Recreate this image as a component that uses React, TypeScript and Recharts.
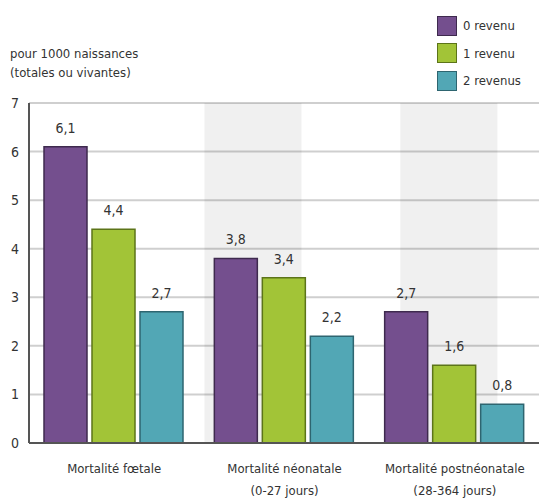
import React from 'react';
import { BarChart, Bar, XAxis, YAxis, CartesianGrid, ReferenceArea, LabelList } from 'recharts';

const categories = ['Mortalité fœtale', 'Mortalité néonatale|(0-27 jours)', 'Mortalité postnéonatale|(28-364 jours)'];
const zeroIncome = [6.1, 3.8, 2.7];
const oneIncome = [4.4, 3.4, 1.6];
const twoIncomes = [2.7, 2.2, 0.8];
const yTicks = [0, 1, 2, 3, 4, 5, 6, 7];
// shaded background bands, in category units (0 = left edge, 3 = right edge)
const bands = [
  [1.03, 1.6],
  [2.18, 2.75],
];

const series = [
  { key: 'r0', name: '0 revenu', values: zeroIncome, fill: '#744f8e', stroke: '#3e2a4e' },
  { key: 'r1', name: '1 revenu', values: oneIncome, fill: '#a2c437', stroke: '#5c7419' },
  { key: 'r2', name: '2 revenus', values: twoIncomes, fill: '#52a7b5', stroke: '#2e6570' },
];

const data = categories.map((c, i) => ({
  name: c,
  pos: i + 0.5,
  r0: zeroIncome[i],
  r1: oneIncome[i],
  r2: twoIncomes[i],
}));

const FONT = '"DejaVu Sans Condensed", sans-serif';
const FS = 13;
const NUM_FS = 14;

const fmt = (v: any) => String(v).replace('.', ',');

const CategoryTick = ({ x, y, payload }: any) => {
  const lines = String(payload.value).split('|');
  return (
    <text x={x} y={y} textAnchor="middle" fontFamily={FONT} fontSize={FS} fill="#333">
      {lines.map((l, i) => (
        <tspan key={i} x={x} dy={22}>{l}</tspan>
      ))}
    </text>
  );
};

export default function App() {
  return (
    <div style={{ position: 'absolute', left: 0, top: 0, width: 539, height: 499, background: '#fff', fontFamily: FONT }}>
      <div style={{ position: 'absolute', left: 10, top: 44, fontSize: FS, lineHeight: '19px', color: '#333' }}>
        pour 1000 naissances<br />(totales ou vivantes)
      </div>
      <div style={{ position: 'absolute', left: 437, top: 12 }}>
        {series.map((s) => (
          <div key={s.key} style={{ display: 'flex', alignItems: 'center', height: 27.5 }}>
            <div style={{ width: 18, height: 18, background: s.fill, border: `1.5px solid ${s.stroke}` }} />
            <span style={{ marginLeft: 6, fontSize: FS, color: '#333' }}>{s.name}</span>
          </div>
        ))}
      </div>
      <BarChart
        width={539}
        height={499}
        data={data}
        margin={{ top: 103, right: -1, bottom: 0, left: 0 }}
        barGap={5}
        barCategoryGap={15}
      >
        <CartesianGrid vertical={false} stroke="#cfcfcf" strokeWidth={2} />
        <XAxis xAxisId="band" dataKey="pos" type="number" domain={[0, 3]} allowDataOverflow hide />
        {bands.map(([a, b], i) => (
          <ReferenceArea key={i} xAxisId="band" x1={a} x2={b} fill="#000" fillOpacity={0.06} stroke="none" ifOverflow="visible" />
        ))}
        <XAxis
          dataKey="name"
          height={56}
          tickLine={false}
          axisLine={{ stroke: '#555', strokeWidth: 2 }}
          tick={<CategoryTick />}
          interval={0}
        />
        <YAxis
          width={29}
          domain={[0, 7]}
          ticks={yTicks}
          tickLine={false}
          tickSize={0}
          tickMargin={10}
          axisLine={{ stroke: '#555', strokeWidth: 2 }}
          tick={{ fontFamily: FONT, fontSize: NUM_FS, fill: '#333' }}
        />
        {series.map((s) => (
          <Bar key={s.key} dataKey={s.key} name={s.name} fill={s.fill} stroke={s.stroke} strokeWidth={1.5} isAnimationActive={false}>
            <LabelList dataKey={s.key} position="top" offset={14} formatter={fmt} style={{ fontFamily: FONT, fontSize: NUM_FS, fill: '#333' }} />
          </Bar>
        ))}
      </BarChart>
    </div>
  );
}
